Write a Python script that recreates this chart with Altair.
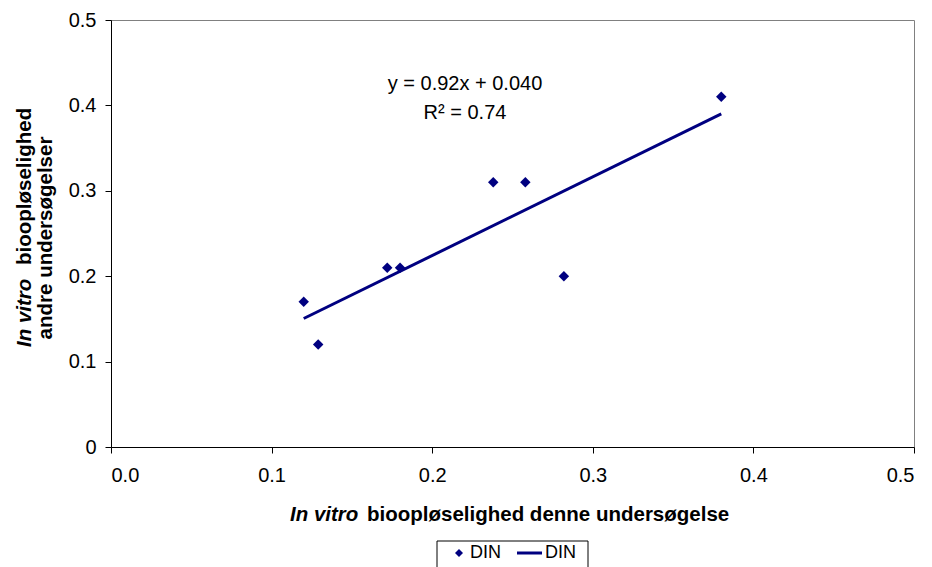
import altair as alt
import pandas as pd

# ---- data ----
x_vals = [0.12, 0.129, 0.172, 0.18, 0.238, 0.258, 0.282, 0.38]
y_vals = [0.17, 0.12, 0.21, 0.21, 0.31, 0.31, 0.20, 0.41]
series_label = "DIN"
x_ticks = [0.0, 0.1, 0.2, 0.3, 0.4, 0.5]
y_ticks = [0.0, 0.1, 0.2, 0.3, 0.4, 0.5]
eq_text = "y = 0.92x + 0.040"
r2_text = "R² = 0.74"

NAVY = "#000080"
FONT = "Liberation Sans"
W, H = 803, 427
TFS = 20.5  # title font size

df = pd.DataFrame({"x": x_vals, "y": y_vals})

xscale = alt.Scale(domain=[0, 0.5], nice=False, zero=False)
yscale = alt.Scale(domain=[0, 0.5], nice=False, zero=False)

xaxis = alt.Axis(values=x_ticks, format=".1f", title=None, grid=False,
                 domainColor="black", tickColor="black", tickSize=6,
                 labelFont=FONT, labelFontSize=20, labelColor="black", labelPadding=12)
yaxis = alt.Axis(values=y_ticks, title=None, grid=False,
                 labelExpr="datum.value == 0 ? '0' : format(datum.value, '.1f')",
                 domainColor="black", tickColor="black", tickSize=6,
                 labelFont=FONT, labelFontSize=20, labelColor="black", labelPadding=9)

points = alt.Chart(df).mark_point(shape="diamond", filled=True, color=NAVY,
                                  opacity=1, size=110).encode(
    x=alt.X("x:Q", scale=xscale, axis=xaxis),
    y=alt.Y("y:Q", scale=yscale, axis=yaxis),
)

trend = alt.Chart(df).transform_regression("x", "y").mark_line(
    color=NAVY, strokeWidth=3).encode(
    x=alt.X("x:Q", scale=xscale),
    y=alt.Y("y:Q", scale=yscale),
)

def txt(s, x, y, **kw):
    base = dict(font=FONT, fontSize=TFS, color="black")
    base.update(kw)
    return alt.Chart(pd.DataFrame({"t": [s]})).mark_text(**base).encode(
        text="t:N", x=alt.value(x), y=alt.value(y))

eq = txt(eq_text, 354, 64, fontSize=20)
r2 = txt(r2_text, 354, 93, fontSize=20)

# x-axis title (mixed italic/bold)
xt1 = txt("In vitro", 179, 495, align="left", baseline="middle", fontWeight="bold", fontStyle="italic")
xt2 = txt("bioopløselighed denne undersøgelse", 256, 495, align="left", baseline="middle", fontWeight="bold")
# y-axis title (two lines, rotated)
yt1 = txt("In vitro", -86, 327, align="left", baseline="middle", angle=270, fontWeight="bold", fontStyle="italic")
yt2 = txt("bioopløselighed", -86, 245, align="left", baseline="middle", angle=270, fontWeight="bold")
yt3 = txt("andre undersøgelser", -65, 218, align="center", baseline="middle", angle=270, fontWeight="bold")

# legend (drawn as a small framed box below the x title)
one = pd.DataFrame({"k": [0]})
leg_box = alt.Chart(one).mark_rect(fill="white", stroke="black", strokeWidth=1).encode(
    x=alt.value(326), x2=alt.value(477), y=alt.value(521), y2=alt.value(552))
leg_pt = alt.Chart(one).mark_point(shape="diamond", filled=True, color=NAVY,
                                   opacity=1, size=64).encode(
    x=alt.value(348), y=alt.value(533))
leg_line = alt.Chart(one).mark_rule(color=NAVY, strokeWidth=3).encode(
    x=alt.value(406), x2=alt.value(431), y=alt.value(533))
leg_t1 = txt(series_label, 359, 533, fontSize=18, align="left", baseline="middle")
leg_t2 = txt(series_label, 434, 533, fontSize=18, align="left", baseline="middle")

chart = alt.layer(trend, points, eq, r2, xt1, xt2, yt1, yt2, yt3,
                  leg_box, leg_pt, leg_line, leg_t1, leg_t2).properties(
    width=W, height=H,
    autosize=alt.AutoSizeParams(type="none"),
    padding={"left": 111, "top": 20, "right": 18, "bottom": 120},
    background="white",
).configure_view(stroke="#808080", strokeWidth=1)

chart.save("out.html", embed_options={"renderer": "svg", "actions": False})
